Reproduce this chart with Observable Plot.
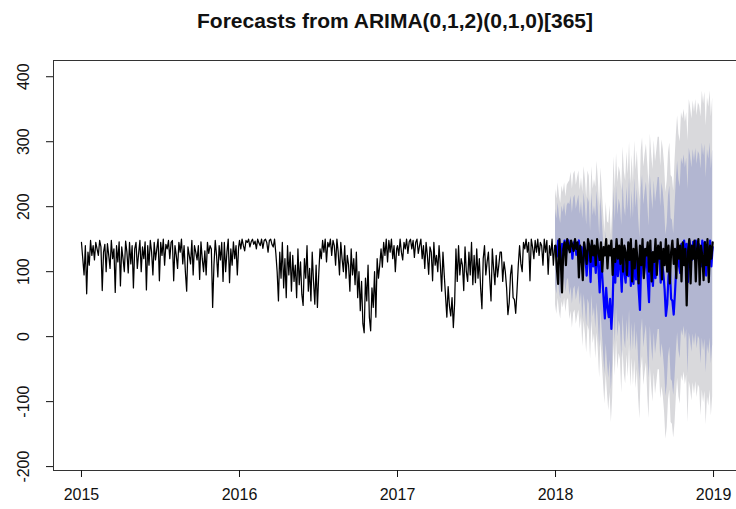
<!DOCTYPE html>
<html><head><meta charset="utf-8">
<script src="https://cdn.jsdelivr.net/npm/d3@7"></script>
<script src="https://cdn.jsdelivr.net/npm/@observablehq/plot@0.6"></script>
<style>
html,body{margin:0;padding:0;background:#fff;overflow:hidden;width:736px;height:509px;}
#wrap{position:relative;width:736px;height:509px;overflow:hidden;}
#title{position:absolute;left:0;top:9px;width:790px;text-align:center;font:bold 21px "Liberation Sans",Arial,sans-serif;color:#111;white-space:nowrap;}
#chart{position:absolute;left:0;top:0;width:745px;}
</style></head><body>
<div id="wrap"><div id="chart"></div><div id="title">Forecasts from ARIMA(0,1,2)(0,1,0)[365]</div></div>
<script>
const history2015 = [145,120,95,140,66,130,110,148,125,140, 118,145,135,125,148,138,71,130,142,100, 143,125,105,148,120,135,68,140,115,146, 78,138,120,100,147,130,98,145,112,140, 75,135,145,105,128,148,100,138,120,146, 72,140,110,148,130,95,145,118,135,150, 86,145,125,150,110,142,135,148,120,145, 148,86,140,125,105,145,130,150,112,140, 100,70,138,125,112,148,95,140,130,118, 140,88,146,120,100,132,95,145,128,140, 135,45,110,148,125,92,140,118,145,85, 145,100,130,150,83,135,110,146,120,140,95,138];
const history2016 = [148,135,150,140,132,148,145,150,138,146, 150,142,147,135,150,144,140,150,136,148, 150,145,130,148,150,142,138,150,128,100, 55,130,90,145,75,120,60,140,95,130, 70,125,85,110,60,135,80,115,65,48, 120,90,140,70,105,55,130,85,50,110, 45,95,135,120,148,130,150,115,145,138, 150,125,148,140,110,150,130,95,145,120, 100,140,90,125,110,70,135,95,120,80, 130,60,100,40,85,20,6,90,55,110, 30,9,75,45,100,30,120,90,110,135, 107,145,125,150,115,148,130,150,120,140,100,135];
const history2017 = [140,125,150,130,118,145,135,150,128,146, 150,135,148,122,145,150,128,140,150,120, 140,105,145,125,96,138,130,86,145,110, 125,100,140,110,70,130,95,62,30,77, 47,32,60,14,52,135,85,140,95,120, 110,71,138,100,85,130,95,145,80,125, 83,135,90,120,75,43,120,140,95,115, 130,90,55,135,105,80,125,92,110,130, 130,85,115,100,75,34,52,95,110,60, 57,36,70,110,140,112,100,145,135,150, 130,145,86,150,138,120,148,130,150,125, 145,140,110,150,130,148,96,140,125,150,110,140];
// Forecast mean for 2018 (blue)
const forecastMean = [138,123,148,128,116,143,133,148,126,144, 148,133,146,120,143,148,126,138,148,118, 138,103,143,123,94,136,128,84,143,108, 123,98,138,108,68,128,93,60,28,75, 45,30,58,12,50,133,83,138,93,118, 108,69,136,98,83,128,93,143,78,123, 81,133,88,118,73,41,118,138,93,113, 128,88,53,133,103,78,123,90,108,128, 128,83,113,98,73,32,50,93,108,58, 55,34,68,108,138,110,98,143,133,148, 128,143,84,148,136,118,146,128,148,123, 143,138,108,148,128,146,94,138,123,148,108,138];
// Actual 2018 values (black, thick)
const actual2018 = [140,106,81,150,120,68,135,145,110,150, 138,130,148,140,132,150,135,145,91,140, 120,87,145,130,112,150,140,115,148,125, 140,110,150,130,118,145,100,138,125,150, 105,140,125,148,95,135,115,150,120,140, 112,150,100,140,130,95,145,118,150,85, 135,105,148,120,82,140,110,150,90,135, 125,145,100,148,85,130,115,150,95,140, 120,145,88,135,110,150,100,140,82,130, 148,112,135,90,150,120,140,85,145,110, 135,48,130,150,82,140,120,148,85,135, 150,80,140,125,87,145,110,150,84,140,120,145];
// Half widths of the prediction intervals, by month of 2018
const halfWidth80 = [58,70,78,86,94,102,110,117,124,132,142,150];
const halfWidth95 = [89,107,119,132,144,156,168,179,190,202,217,230];
const xTicks = [2015,2016,2017,2018,2019];
const yTicks = [-200,-100,0,100,200,300,400];
const stepDays = 3;

const yearly = (arr, year) => arr.map((v, i) => ({t: year + i * stepDays / 365, v}));
const hist = [...yearly(history2015, 2015), ...yearly(history2016, 2016), ...yearly(history2017, 2017)];
const fc = forecastMean.map((v, m) => {
  const mo = Math.min(11, Math.floor(m * stepDays / 365 * 12));
  return {t: 2018 + m * stepDays / 365, mean: v,
    lo80: v - halfWidth80[mo], hi80: v + halfWidth80[mo],
    lo95: v - halfWidth95[mo], hi95: v + halfWidth95[mo]};
});
const test = yearly(actual2018, 2018);

const chart = Plot.plot({
  width: 745, height: 509,
  marginLeft: 53, marginRight: 7, marginTop: 60, marginBottom: 39,
  x: {domain: [2014.823, 2019.158]},
  y: {domain: [-206, 425]},
  style: {fontFamily: "'Liberation Sans', Arial, sans-serif", fontSize: "16px", color: "#111", background: "white", maxWidth: "none"},
  marks: [
    Plot.areaY(fc, {x: "t", y1: "lo95", y2: "hi95", fill: "#d9d9dc"}),
    Plot.areaY(fc, {x: "t", y1: "lo80", y2: "hi80", fill: "#b2b6d1"}),
    Plot.lineY(hist, {x: "t", y: "v", stroke: "#000", strokeWidth: 1.25}),
    Plot.lineY(fc, {x: "t", y: "mean", stroke: "#0000ff", strokeWidth: 2.2}),
    Plot.lineY(test, {x: "t", y: "v", stroke: "#000", strokeWidth: 2.2}),
    Plot.frame({stroke: "#333"}),
    Plot.axisX({ticks: xTicks, tickSize: 7, tickPadding: 11, tickFormat: d => String(d), fontSize: 16, label: null}),
    Plot.axisY({ticks: yTicks, tickSize: 7, tickFormat: () => "", label: null}),
    Plot.text(yTicks, {y: d => d, text: d => String(d), frameAnchor: "left", dx: -30, rotate: -90, fontSize: 16, textAnchor: "middle", lineAnchor: "middle"})
  ]
});
document.getElementById("chart").appendChild(chart);
</script>
</body></html>
